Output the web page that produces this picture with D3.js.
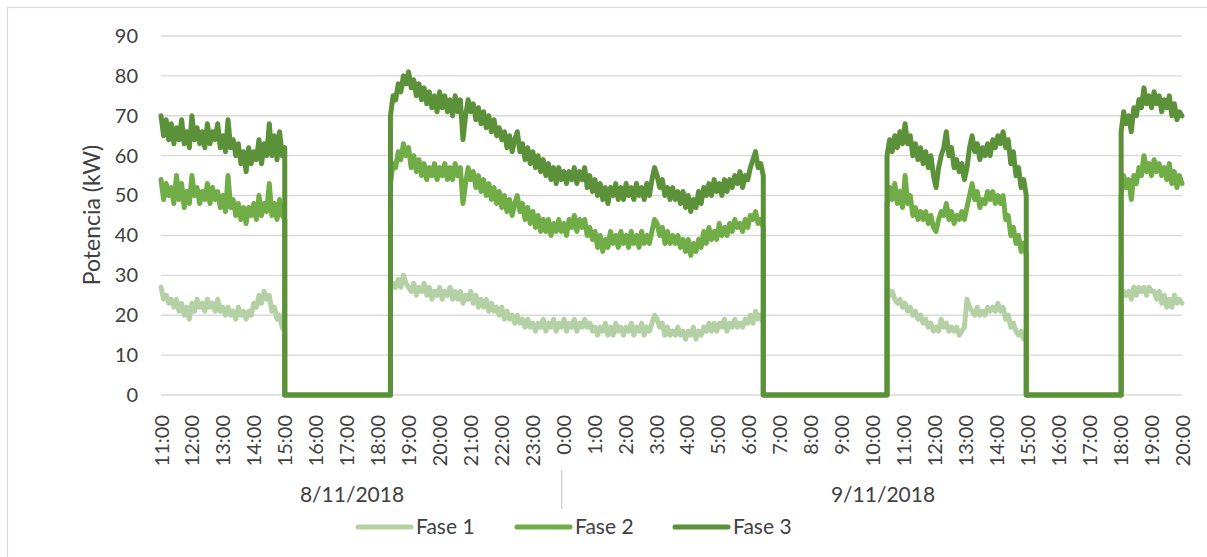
<!DOCTYPE html>
<html>
<head>
<meta charset="utf-8">
<script src="https://cdn.jsdelivr.net/npm/d3@7"></script>
<style>
  body { margin: 0; background: #fff; }
  text { font-family: Lato, 'Noto Sans', sans-serif; fill: #404040; }
</style>
</head>
<body>
<div id="chart"></div>
<script>
// on periods (start, end) -- values are spread evenly between them
const periodStart = [
  new Date(2018, 10, 8, 11, 0),
  new Date(2018, 10, 8, 18, 25),
  new Date(2018, 10, 9, 10, 28),
  new Date(2018, 10, 9, 18, 2),
]
const periodEnd = [
  new Date(2018, 10, 8, 15, 0),
  new Date(2018, 10, 9, 6, 28),
  new Date(2018, 10, 9, 14, 58),
  new Date(2018, 10, 9, 20, 0),
]

// readings, roughly every 5 minutes, kW
const fase1 = [
  [27, 24, 25, 23, 24, 22, 24, 21, 23, 20, 22, 19, 23, 21, 24, 22, 23, 21, 24, 22, 23, 21, 24, 21, 22,
   20, 22, 20, 21, 19, 22, 20, 21, 19, 21, 20, 23, 22, 25, 23, 26, 24, 25, 21, 22, 19, 20, 17, 16],
  [26, 28, 27, 29, 27, 30, 28, 27, 26, 28, 25, 27, 26, 28, 25, 27, 24, 26, 25, 27, 24, 26, 25, 27, 24,
   26, 24, 26, 23, 25, 24, 26, 23, 25, 22, 24, 22, 24, 21, 23, 21, 22, 20, 22, 19, 21, 19, 20, 18, 20,
   18, 19, 17, 19, 17, 18, 16, 18, 17, 19, 16, 18, 17, 19, 16, 18, 17, 19, 16, 18, 17, 19, 16, 18, 17,
   19, 17, 18, 16, 17, 15, 17, 16, 18, 15, 17, 15, 18, 16, 17, 15, 17, 16, 18, 15, 17, 16, 18, 15, 17,
   16, 18, 20, 19, 17, 18, 15, 17, 15, 16, 15, 17, 15, 16, 14, 16, 15, 17, 14, 16, 15, 17, 16, 18, 16,
   18, 16, 18, 17, 19, 16, 18, 17, 19, 17, 18, 17, 19, 18, 20, 18, 21, 19, 20, 18],
  [27, 25, 26, 24, 23, 24, 22, 23, 21, 22, 20, 21, 19, 20, 18, 19, 17, 18, 16, 17, 16, 19, 17, 18, 16,
   17, 16, 17, 15, 16, 17, 24, 22, 21, 20, 22, 20, 21, 20, 22, 21, 22, 21, 23, 21, 22, 19, 20, 17, 18,
   16, 15, 16, 14, 15],
  [24, 26, 25, 26, 24, 27, 25, 27, 26, 27, 25, 27, 26, 26, 24, 26, 23, 25, 22, 24, 22, 25, 23, 24, 23],
]
const fase2 = [
  [54, 49, 53, 50, 52, 48, 55, 49, 53, 47, 51, 48, 55, 50, 52, 48, 51, 49, 53, 48, 52, 49, 51, 47, 50,
   46, 55, 47, 49, 45, 48, 44, 47, 43, 47, 45, 48, 44, 50, 45, 48, 46, 53, 45, 48, 44, 49, 45, 44],
  [53, 58, 57, 61, 59, 63, 60, 62, 57, 60, 56, 59, 55, 58, 54, 57, 55, 58, 54, 57, 55, 58, 54, 57, 54,
   58, 55, 57, 48, 53, 57, 54, 56, 52, 55, 51, 54, 50, 53, 49, 52, 48, 51, 47, 50, 46, 49, 45, 48, 50,
   46, 48, 44, 47, 43, 46, 42, 45, 41, 44, 41, 44, 40, 43, 41, 44, 41, 43, 40, 44, 42, 45, 41, 44, 42,
   44, 40, 42, 39, 41, 37, 40, 36, 39, 37, 41, 38, 40, 37, 41, 38, 40, 37, 41, 38, 40, 37, 41, 38, 40,
   38, 41, 44, 43, 40, 42, 38, 41, 38, 40, 38, 40, 37, 39, 36, 39, 35, 38, 36, 39, 37, 41, 38, 42, 39,
   41, 39, 43, 40, 42, 40, 43, 41, 44, 42, 43, 41, 44, 42, 45, 44, 46, 43, 44, 42],
  [48, 52, 49, 53, 48, 51, 47, 55, 48, 50, 45, 47, 44, 46, 44, 46, 43, 45, 42, 41, 44, 46, 45, 48, 44,
   46, 43, 45, 44, 46, 44, 47, 50, 53, 49, 51, 47, 49, 48, 51, 49, 51, 48, 50, 48, 50, 44, 45, 40, 42,
   38, 40, 36, 38, 35],
  [50, 55, 52, 54, 49, 55, 53, 57, 55, 60, 56, 58, 55, 59, 56, 58, 55, 57, 54, 58, 53, 56, 52, 55, 53],
]
const fase3 = [
  [70, 65, 69, 64, 68, 63, 67, 64, 69, 63, 66, 62, 70, 64, 67, 63, 66, 62, 68, 63, 66, 64, 68, 62, 65,
   61, 69, 62, 64, 60, 63, 58, 61, 56, 62, 58, 61, 59, 64, 58, 63, 60, 68, 60, 65, 59, 66, 60, 62],
  [70, 75, 74, 78, 76, 80, 78, 81, 77, 79, 75, 78, 74, 77, 73, 76, 72, 75, 71, 76, 72, 75, 71, 74, 70,
   75, 71, 74, 64, 70, 74, 71, 73, 69, 72, 68, 71, 67, 70, 66, 69, 65, 67, 64, 66, 62, 65, 61, 64, 66,
   61, 63, 59, 62, 58, 61, 57, 60, 56, 59, 55, 58, 54, 57, 53, 57, 54, 56, 53, 56, 54, 57, 53, 56, 54,
   57, 52, 55, 51, 54, 50, 53, 49, 52, 48, 52, 50, 53, 49, 52, 49, 53, 50, 52, 49, 53, 50, 52, 49, 53,
   50, 54, 57, 55, 52, 54, 50, 52, 49, 52, 49, 51, 48, 51, 47, 50, 46, 49, 47, 51, 48, 52, 50, 53, 50,
   54, 51, 53, 50, 54, 51, 54, 52, 55, 53, 56, 52, 55, 54, 57, 59, 61, 57, 58, 55],
  [60, 64, 61, 65, 62, 66, 63, 68, 63, 65, 60, 63, 59, 62, 58, 61, 57, 60, 55, 52, 57, 60, 62, 66, 60,
   62, 57, 59, 56, 58, 54, 57, 62, 65, 61, 63, 59, 62, 60, 63, 60, 64, 62, 65, 63, 66, 62, 64, 58, 61,
   55, 57, 52, 54, 50],
  [66, 71, 68, 70, 66, 72, 70, 74, 72, 77, 73, 75, 72, 76, 73, 75, 71, 74, 72, 75, 70, 73, 69, 71, 70],
]

const seriesNames = ['Fase 1', 'Fase 2', 'Fase 3']
const seriesColors = ['#b4d1a6', '#70ad47', '#5b9139']
const yTicks = [0, 10, 20, 30, 40, 50, 60, 70, 80, 90]
const dayLabels = ['8/11/2018', '9/11/2018']

const chartWidth = 1207
const chartHeight = 557
const margin = { top: 36, right: 25, bottom: 162, left: 161 }
const width = chartWidth - margin.left - margin.right
const height = chartHeight - margin.top - margin.bottom

const svg = d3.select('#chart')
  .append('svg')
    .attr('width', chartWidth)
    .attr('height', chartHeight)

// chart area border
svg.append('rect')
  .attr('x', 7.5)
  .attr('y', 7.5)
  .attr('width', chartWidth)
  .attr('height', chartHeight)
  .attr('fill', 'none')
  .attr('stroke', '#d9d9d9')
  .attr('stroke-width', 1.2)

const g = svg.append('g')
  .attr('transform', `translate(${margin.left}, ${margin.top})`)

const x = d3.scaleTime()
  .domain([periodStart[0], periodEnd[periodEnd.length - 1]])
  .range([0, width])

const y = d3.scaleLinear()
  .domain([0, 90])
  .range([height, 0])

// gridlines
g.append('g')
  .selectAll('line')
  .data(yTicks)
  .enter()
  .append('line')
    .attr('x1', 0)
    .attr('x2', width)
    .attr('y1', d => y(d))
    .attr('y2', d => y(d))
    .attr('stroke', '#d9d9d9')
    .attr('stroke-width', 1.4)

// y axis labels
const yAxis = g.append('g')
  .call(d3.axisLeft(y).tickValues(yTicks).tickSize(0).tickPadding(23))
yAxis.select('.domain').remove()
yAxis.selectAll('text')
  .style('font-size', '20px')
  .attr('fill', '#595959')

// x axis labels, rotated
const hours = d3.timeHour.range(periodStart[0], d3.timeMinute.offset(periodEnd[periodEnd.length - 1], 1))
const xAxis = g.append('g')
  .attr('transform', `translate(0, ${height})`)
  .call(d3.axisBottom(x).tickValues(hours).tickFormat(d3.timeFormat('%-H:%M')).tickSize(0))
xAxis.select('.domain').remove()
xAxis.selectAll('text')
  .style('font-size', '20px')
  .attr('fill', '#404040')
  .attr('text-anchor', 'end')
  .attr('dy', '0.35em')
  .attr('transform', 'translate(0, 20) rotate(-90)')
  .attr('x', 0)
  .attr('y', 0)

// day labels + divider
const midnight = new Date(2018, 10, 9, 0, 0)
g.append('line')
  .attr('x1', x(midnight) - 1.5)
  .attr('x2', x(midnight) - 1.5)
  .attr('y1', 434)
  .attr('y2', 473)
  .attr('stroke', '#bfbfbf')
  .attr('stroke-width', 1)

g.selectAll('.day')
  .data(dayLabels)
  .enter()
  .append('text')
    .attr('class', 'day')
    .attr('x', (d, i) => i === 0 ? 191 : 722)
    .attr('y', 466)
    .attr('text-anchor', 'middle')
    .style('font-size', '21px')
    .text(d => d)

// build each series: on periods joined by zero stretches
function buildSeries(values) {
  const points = []
  values.forEach((vals, p) => {
    const t0 = +periodStart[p]
    const step = (periodEnd[p] - periodStart[p]) / (vals.length - 1)
    if (p > 0) points.push({ t: new Date(t0), v: 0 })
    vals.forEach((v, i) => points.push({ t: new Date(t0 + i * step), v }))
    if (p < values.length - 1) points.push({ t: periodEnd[p], v: 0 })
  })
  return points
}

const line = d3.line()
  .x(d => x(d.t))
  .y(d => y(d.v))

const allSeries = [fase1, fase2, fase3].map(buildSeries)

g.selectAll('.series')
  .data(allSeries)
  .enter()
  .append('path')
    .attr('class', 'series')
    .attr('d', d => line(d))
    .attr('fill', 'none')
    .attr('stroke', (d, i) => seriesColors[i])
    .attr('stroke-width', 5)
    .attr('stroke-linejoin', 'round')
    .attr('stroke-linecap', 'round')

// y axis title
svg.append('text')
  .attr('transform', 'translate(92, 215) rotate(-90)')
  .attr('text-anchor', 'middle')
  .attr('dy', '0.35em')
  .style('font-size', '23px')
  .attr('fill', '#404040')
  .text('Potencia (kW)')

// legend
const legendX = [356, 515, 673]
const legend = svg.append('g')
  .selectAll('g')
  .data(seriesNames)
  .enter()
  .append('g')
    .attr('transform', (d, i) => `translate(${legendX[i]}, 527)`)

legend.append('line')
  .attr('x1', 2)
  .attr('x2', 55)
  .attr('stroke', (d, i) => seriesColors[i])
  .attr('stroke-width', 5)
  .attr('stroke-linecap', 'round')

legend.append('text')
  .attr('x', 60)
  .attr('dy', '0.35em')
  .style('font-size', '21px')
  .text(d => d)
</script>
</body>
</html>
